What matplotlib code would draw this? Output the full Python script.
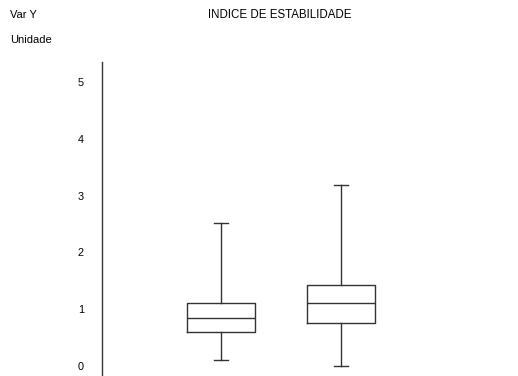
import matplotlib.pyplot as plt

plt.rcParams['font.family'] = ['Liberation Sans', 'DejaVu Sans']

# dados
grupos = [1, 2]
minimo = [0.10, 0.00]
q1 = [0.60, 0.76]
mediana = [0.85, 1.10]
q3 = [1.11, 1.43]
maximo = [2.52, 3.19]
yticks = [0, 1, 2, 3, 4, 5]

stats = []
for i in range(len(grupos)):
    stats.append({'whislo': minimo[i], 'q1': q1[i], 'med': mediana[i],
                  'q3': q3[i], 'whishi': maximo[i], 'fliers': []})

fig = plt.figure(figsize=(5.18, 3.76), dpi=100)
ax = fig.add_axes([102/518, 0, 400/518, 314/376])

cor = '#333333'
ax.bxp(stats, positions=grupos, widths=0.57, showfliers=False,
       boxprops=dict(color=cor, linewidth=1),
       medianprops=dict(color=cor, linewidth=1),
       whiskerprops=dict(color=cor, linewidth=1),
       capprops=dict(color=cor, linewidth=1),
       capwidths=0.12)

ax.set_xlim(1 - 119/120, 1 - 119/120 + 400/120)
ax.set_ylim(-0.176, 5.35)
ax.set_yticks(yticks)
ax.set_yticklabels([str(t) for t in yticks], fontsize=7.8)
ax.tick_params(axis='y', length=0, pad=13)
ax.set_xticks([])
for s in ['top', 'right', 'bottom']:
    ax.spines[s].set_visible(False)
ax.spines['left'].set_color(cor)
ax.spines['left'].set_linewidth(1)

fig.text(10/518, 1 - 15/376, 'Var Y', fontsize=8, va='center', ha='left')
fig.text(10/518, 1 - 40/376, 'Unidade', fontsize=8, va='center', ha='left')
fig.text(280/518, 1 - 15/376, 'INDICE DE ESTABILIDADE', fontsize=8.3,
         va='center', ha='center')

fig.savefig('out.png', dpi=100)
